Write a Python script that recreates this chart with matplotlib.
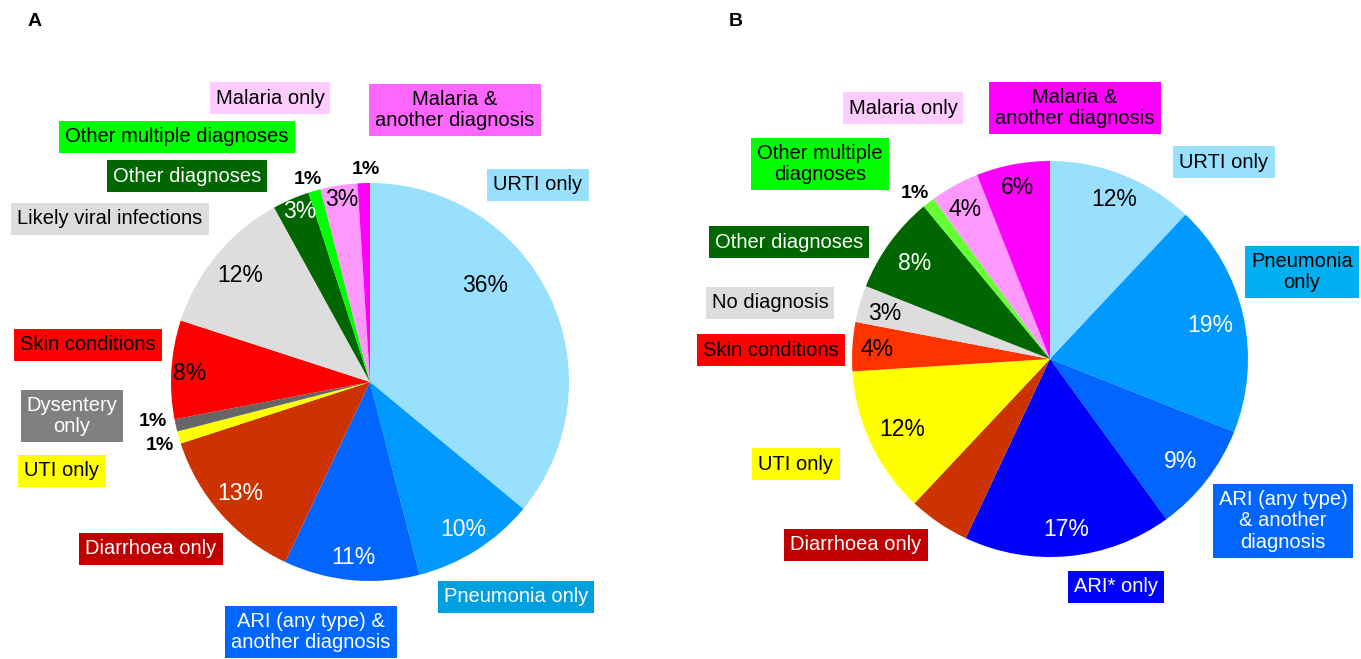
"""Two pie charts of diagnosis categories (panels A and B)."""

import matplotlib.pyplot as plt

plt.rcParams['font.family'] = ['Liberation Sans', 'DejaVu Sans']

# ---- data, panel A (clockwise from 12 o'clock) ----
cats_a = ["URTI only", "Pneumonia only", "ARI (any type) &\nanother diagnosis",
          "Diarrhoea only", "UTI only", "Dysentery\nonly", "Skin conditions",
          "Likely viral infections", "Other diagnoses", "Other multiple diagnoses",
          "Malaria only", "Malaria &\nanother diagnosis"]
vals_a = [36, 10, 11, 13, 1, 1, 8, 12, 3, 1, 3, 1]

# ---- data, panel B (clockwise from 12 o'clock) ----
cats_b = ["URTI only", "Pneumonia\nonly", "ARI (any type)\n& another\ndiagnosis",
          "ARI* only", "Diarrhoea only", "UTI only", "Skin conditions",
          "No diagnosis", "Other diagnoses", "Other multiple\ndiagnoses",
          "Malaria only", "Malaria &\nanother diagnosis"]
vals_b = [12, 19, 9, 17, 5, 12, 4, 3, 8, 1, 4, 6]

# ---- styling ----
slice_a = ["#99E0FF", "#0099FF", "#0066FF", "#CC3300", "#FFFF00", "#666666",
           "#FF0000", "#DDDDDD", "#006600", "#00FF00", "#FF99FF", "#FF00FF"]
slice_b = ["#99E0FF", "#0099FF", "#0066FF", "#0000FF", "#CC3300", "#FFFF00",
           "#FF3300", "#DDDDDD", "#006600", "#66FF33", "#FF99FF", "#FF00FF"]
box_a = ["#99E0FF", "#00A0E0", "#0066FF", "#C00000", "#FFFF00", "#808080",
         "#FF0000", "#DDDDDD", "#006600", "#00FF00", "#FFCCFF", "#FF66FF"]
box_b = ["#99E0FF", "#00B0F0", "#0066FF", "#0000FF", "#C00000", "#FFFF00",
         "#FF0000", "#DDDDDD", "#006600", "#00FF00", "#FFCCFF", "#FF00FF"]
boxtxt_a = ["k", "w", "w", "w", "k", "w", "k", "k", "w", "k", "k", "k"]
boxtxt_b = ["k", "k", "w", "w", "w", "k", "k", "k", "w", "k", "k", "k"]
pcttxt_a = ["k", "w", "w", "w", "k", "k", "k", "k", "w", "k", "k", "k"]
pcttxt_b = ["k", "w", "w", "w", "w", "k", "k", "k", "w", "k", "k", "k"]

# label box centres and percent label centres (pixels, y down)
boxpos_a = [(538, 185), (516, 597), (311, 632), (151, 549), (62, 471), (72, 416),
            (88, 345), (110, 219), (187, 176), (177, 137), (270, 98), (455, 110)]
boxpos_b = [(1224, 162), (1302, 272), (1283, 521), (1116, 587), (856, 545), (796, 464),
            (771, 350), (770, 303), (789, 242), (820, 164), (903, 108), (1075, 108)]
pctpos_a = [(485, 286), (463, 530), (353, 558), (240, 494), (160, 445), (153, 422),
            (190, 373), (240, 275), (300, 212), (308, 179), (342, 200), (366, 170)]
pctpos_b = [(1114, 199), (1210, 325), (1181, 462), (1066, 530), (949, 551), (902, 430),
            (877, 350), (885, 313), (915, 263), (915, 193), (965, 210), (1018, 187)]

W, H = 1361, 659
fig = plt.figure(figsize=(W / 100, H / 100), dpi=100)
ax = fig.add_axes([0, 0, 1, 1])


def draw_panel(vals, cats, colors, boxes, boxtxt, pcttxt, boxpos, pctpos, center, radius):
    # y axis is inverted, so counterclockwise in data reads clockwise on screen
    ax.pie(vals, colors=colors, startangle=-90, counterclock=True, center=center,
           radius=radius, wedgeprops=dict(linewidth=0), frame=True)
    for name, fc, tc, (x, y) in zip(cats, boxes, boxtxt, boxpos):
        ax.text(x, y, name, ha="center", va="center", color=tc, fontsize=14.5,
                linespacing=1.15,
                bbox=dict(boxstyle="square,pad=0.3", fc=fc, ec="none"))
    for v, tc, (x, y) in zip(vals, pcttxt, pctpos):
        small = v <= 1
        ax.text(x, y, f"{v}%", ha="center", va="center", color=tc,
                fontsize=14 if small else 16.5, fontweight="bold" if small else "normal")


draw_panel(vals_a, cats_a, slice_a, box_a, boxtxt_a, pcttxt_a, boxpos_a, pctpos_a,
           (370, 382), 199)
draw_panel(vals_b, cats_b, slice_b, box_b, boxtxt_b, pcttxt_b, boxpos_b, pctpos_b,
           (1050, 359), 198)

ax.text(35, 22, "A", fontsize=14, fontweight="bold", ha="center", va="center")
ax.text(736, 22, "B", fontsize=14, fontweight="bold", ha="center", va="center")

ax.set_xlim(0, W)
ax.set_ylim(H, 0)
ax.set_aspect("equal")
ax.axis("off")

fig.savefig("out.png", dpi=100)
